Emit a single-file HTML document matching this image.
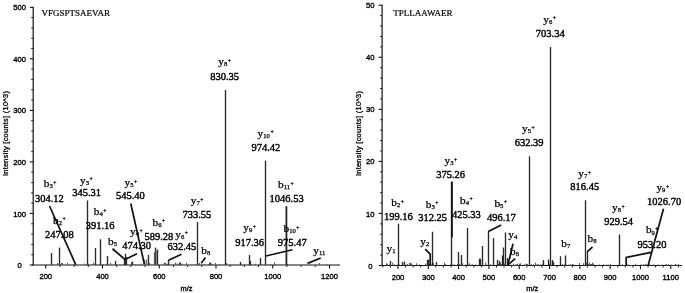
<!DOCTYPE html>
<html><head><meta charset="utf-8"><title>MS/MS spectra</title>
<style>html,body{margin:0;padding:0;background:#fff}svg{display:block;filter:blur(0.35px)}</style></head>
<body>
<svg width="685" height="293" viewBox="0 0 685 293">
<rect width="685" height="293" fill="#fff"/>
<line x1="33.20" y1="6.80" x2="33.20" y2="265.50" stroke="#111" stroke-width="1.2" stroke-linecap="butt"/>
<line x1="32.60" y1="265.00" x2="340.00" y2="265.00" stroke="#111" stroke-width="1.2" stroke-linecap="butt"/>
<line x1="29.80" y1="265.00" x2="33.20" y2="265.00" stroke="#111" stroke-width="1.1" stroke-linecap="butt"/>
<text x="19.60" y="268.10" font-family='"Liberation Sans", sans-serif' font-size="7.6" text-anchor="middle" font-weight="normal" fill="#000" stroke="#000" stroke-width="0.35">0</text>
<line x1="31.20" y1="254.69" x2="33.20" y2="254.69" stroke="#111" stroke-width="0.9" stroke-linecap="butt"/>
<line x1="31.20" y1="244.38" x2="33.20" y2="244.38" stroke="#111" stroke-width="0.9" stroke-linecap="butt"/>
<line x1="31.20" y1="234.08" x2="33.20" y2="234.08" stroke="#111" stroke-width="0.9" stroke-linecap="butt"/>
<line x1="31.20" y1="223.77" x2="33.20" y2="223.77" stroke="#111" stroke-width="0.9" stroke-linecap="butt"/>
<line x1="29.80" y1="213.46" x2="33.20" y2="213.46" stroke="#111" stroke-width="1.1" stroke-linecap="butt"/>
<text x="19.60" y="216.56" font-family='"Liberation Sans", sans-serif' font-size="7.6" text-anchor="middle" font-weight="normal" fill="#000" stroke="#000" stroke-width="0.35">100</text>
<line x1="31.20" y1="203.15" x2="33.20" y2="203.15" stroke="#111" stroke-width="0.9" stroke-linecap="butt"/>
<line x1="31.20" y1="192.84" x2="33.20" y2="192.84" stroke="#111" stroke-width="0.9" stroke-linecap="butt"/>
<line x1="31.20" y1="182.54" x2="33.20" y2="182.54" stroke="#111" stroke-width="0.9" stroke-linecap="butt"/>
<line x1="31.20" y1="172.23" x2="33.20" y2="172.23" stroke="#111" stroke-width="0.9" stroke-linecap="butt"/>
<line x1="29.80" y1="161.92" x2="33.20" y2="161.92" stroke="#111" stroke-width="1.1" stroke-linecap="butt"/>
<text x="19.60" y="165.02" font-family='"Liberation Sans", sans-serif' font-size="7.6" text-anchor="middle" font-weight="normal" fill="#000" stroke="#000" stroke-width="0.35">200</text>
<line x1="31.20" y1="151.61" x2="33.20" y2="151.61" stroke="#111" stroke-width="0.9" stroke-linecap="butt"/>
<line x1="31.20" y1="141.30" x2="33.20" y2="141.30" stroke="#111" stroke-width="0.9" stroke-linecap="butt"/>
<line x1="31.20" y1="131.00" x2="33.20" y2="131.00" stroke="#111" stroke-width="0.9" stroke-linecap="butt"/>
<line x1="31.20" y1="120.69" x2="33.20" y2="120.69" stroke="#111" stroke-width="0.9" stroke-linecap="butt"/>
<line x1="29.80" y1="110.38" x2="33.20" y2="110.38" stroke="#111" stroke-width="1.1" stroke-linecap="butt"/>
<text x="19.60" y="113.48" font-family='"Liberation Sans", sans-serif' font-size="7.6" text-anchor="middle" font-weight="normal" fill="#000" stroke="#000" stroke-width="0.35">300</text>
<line x1="31.20" y1="100.07" x2="33.20" y2="100.07" stroke="#111" stroke-width="0.9" stroke-linecap="butt"/>
<line x1="31.20" y1="89.76" x2="33.20" y2="89.76" stroke="#111" stroke-width="0.9" stroke-linecap="butt"/>
<line x1="31.20" y1="79.46" x2="33.20" y2="79.46" stroke="#111" stroke-width="0.9" stroke-linecap="butt"/>
<line x1="31.20" y1="69.15" x2="33.20" y2="69.15" stroke="#111" stroke-width="0.9" stroke-linecap="butt"/>
<line x1="29.80" y1="58.84" x2="33.20" y2="58.84" stroke="#111" stroke-width="1.1" stroke-linecap="butt"/>
<text x="19.60" y="61.94" font-family='"Liberation Sans", sans-serif' font-size="7.6" text-anchor="middle" font-weight="normal" fill="#000" stroke="#000" stroke-width="0.35">400</text>
<line x1="31.20" y1="48.53" x2="33.20" y2="48.53" stroke="#111" stroke-width="0.9" stroke-linecap="butt"/>
<line x1="31.20" y1="38.22" x2="33.20" y2="38.22" stroke="#111" stroke-width="0.9" stroke-linecap="butt"/>
<line x1="31.20" y1="27.92" x2="33.20" y2="27.92" stroke="#111" stroke-width="0.9" stroke-linecap="butt"/>
<line x1="31.20" y1="17.61" x2="33.20" y2="17.61" stroke="#111" stroke-width="0.9" stroke-linecap="butt"/>
<line x1="29.80" y1="7.30" x2="33.20" y2="7.30" stroke="#111" stroke-width="1.1" stroke-linecap="butt"/>
<text x="19.60" y="10.40" font-family='"Liberation Sans", sans-serif' font-size="7.6" text-anchor="middle" font-weight="normal" fill="#000" stroke="#000" stroke-width="0.35">500</text>
<line x1="45.75" y1="265.00" x2="45.75" y2="268.60" stroke="#111" stroke-width="1.1" stroke-linecap="butt"/>
<text x="45.75" y="279.00" font-family='"Liberation Sans", sans-serif' font-size="7.6" text-anchor="middle" font-weight="normal" fill="#000" stroke="#000" stroke-width="0.35">200</text>
<line x1="102.50" y1="265.00" x2="102.50" y2="268.60" stroke="#111" stroke-width="1.1" stroke-linecap="butt"/>
<text x="102.50" y="279.00" font-family='"Liberation Sans", sans-serif' font-size="7.6" text-anchor="middle" font-weight="normal" fill="#000" stroke="#000" stroke-width="0.35">400</text>
<line x1="159.25" y1="265.00" x2="159.25" y2="268.60" stroke="#111" stroke-width="1.1" stroke-linecap="butt"/>
<text x="159.25" y="279.00" font-family='"Liberation Sans", sans-serif' font-size="7.6" text-anchor="middle" font-weight="normal" fill="#000" stroke="#000" stroke-width="0.35">600</text>
<line x1="216.00" y1="265.00" x2="216.00" y2="268.60" stroke="#111" stroke-width="1.1" stroke-linecap="butt"/>
<text x="216.00" y="279.00" font-family='"Liberation Sans", sans-serif' font-size="7.6" text-anchor="middle" font-weight="normal" fill="#000" stroke="#000" stroke-width="0.35">800</text>
<line x1="272.75" y1="265.00" x2="272.75" y2="268.60" stroke="#111" stroke-width="1.1" stroke-linecap="butt"/>
<text x="272.75" y="279.00" font-family='"Liberation Sans", sans-serif' font-size="7.6" text-anchor="middle" font-weight="normal" fill="#000" stroke="#000" stroke-width="0.35">1000</text>
<line x1="329.50" y1="265.00" x2="329.50" y2="268.60" stroke="#111" stroke-width="1.1" stroke-linecap="butt"/>
<text x="329.50" y="279.00" font-family='"Liberation Sans", sans-serif' font-size="7.6" text-anchor="middle" font-weight="normal" fill="#000" stroke="#000" stroke-width="0.35">1200</text>
<line x1="59.94" y1="265.00" x2="59.94" y2="267.00" stroke="#111" stroke-width="0.9" stroke-linecap="butt"/>
<line x1="74.12" y1="265.00" x2="74.12" y2="267.00" stroke="#111" stroke-width="0.9" stroke-linecap="butt"/>
<line x1="88.31" y1="265.00" x2="88.31" y2="267.00" stroke="#111" stroke-width="0.9" stroke-linecap="butt"/>
<line x1="116.69" y1="265.00" x2="116.69" y2="267.00" stroke="#111" stroke-width="0.9" stroke-linecap="butt"/>
<line x1="130.88" y1="265.00" x2="130.88" y2="267.00" stroke="#111" stroke-width="0.9" stroke-linecap="butt"/>
<line x1="145.06" y1="265.00" x2="145.06" y2="267.00" stroke="#111" stroke-width="0.9" stroke-linecap="butt"/>
<line x1="173.44" y1="265.00" x2="173.44" y2="267.00" stroke="#111" stroke-width="0.9" stroke-linecap="butt"/>
<line x1="187.62" y1="265.00" x2="187.62" y2="267.00" stroke="#111" stroke-width="0.9" stroke-linecap="butt"/>
<line x1="201.81" y1="265.00" x2="201.81" y2="267.00" stroke="#111" stroke-width="0.9" stroke-linecap="butt"/>
<line x1="230.19" y1="265.00" x2="230.19" y2="267.00" stroke="#111" stroke-width="0.9" stroke-linecap="butt"/>
<line x1="244.38" y1="265.00" x2="244.38" y2="267.00" stroke="#111" stroke-width="0.9" stroke-linecap="butt"/>
<line x1="258.56" y1="265.00" x2="258.56" y2="267.00" stroke="#111" stroke-width="0.9" stroke-linecap="butt"/>
<line x1="286.94" y1="265.00" x2="286.94" y2="267.00" stroke="#111" stroke-width="0.9" stroke-linecap="butt"/>
<line x1="301.12" y1="265.00" x2="301.12" y2="267.00" stroke="#111" stroke-width="0.9" stroke-linecap="butt"/>
<line x1="315.31" y1="265.00" x2="315.31" y2="267.00" stroke="#111" stroke-width="0.9" stroke-linecap="butt"/>
<text transform="translate(8.00,133.6) rotate(-90)" font-family='"Liberation Sans", sans-serif' font-size="7.4" textLength="85" lengthAdjust="spacing" text-anchor="middle" fill="#000" stroke="#000" stroke-width="0.3">Intensity [counts] (10^3)</text>
<text x="186.50" y="291.30" font-family='"Liberation Sans", sans-serif' font-size="7.5" text-anchor="middle" font-weight="normal" fill="#000" stroke="#000" stroke-width="0.35">m/z</text>
<text x="41.60" y="15.80" font-family='"Liberation Serif", serif' font-size="9.0" text-anchor="start" font-weight="normal" fill="#000" stroke="#000" stroke-width="0.2">VFGSPTSAEVAR</text>
<path d="M135.5 265.0V264.0M156.5 265.0V264.2M61.5 265.0V263.0M67.5 265.0V263.0M57.5 265.0V263.0M103.5 265.0V264.2M167.5 265.0V264.2M110.5 265.0V263.0M165.5 265.0V263.0M76.5 265.0V264.0M226.5 265.0V263.0M319.5 265.0V263.0M212.5 265.0V264.2M327.5 265.0V264.2M204.5 265.0V264.0M125.5 265.0V264.0M199.5 265.0V263.0M131.5 265.0V262.5M93.5 265.0V263.0M208.5 265.0V264.0M149.5 265.0V263.0M250.5 265.0V263.0M57.5 265.0V264.0M186.5 265.0V263.0M166.5 265.0V263.8M177.5 265.0V263.5M146.5 265.0V264.0M274.5 265.0V262.5M270.5 265.0V264.2M209.5 265.0V263.0M186.5 265.0V263.8M255.5 265.0V263.8M219.5 265.0V264.2M74.5 265.0V263.5M88.5 265.0V263.8M84.5 265.0V263.5M164.5 265.0V262.5M62.5 265.0V263.0M209.5 265.0V263.8M140.5 265.0V263.8M215.5 265.0V263.0M275.5 265.0V264.2M287.5 265.0V263.8M179.5 265.0V262.5M59.5 265.0V262.5" stroke="#555" stroke-width="1" fill="none"/>
<line x1="51.50" y1="253.00" x2="51.50" y2="265.00" stroke="#2a2a2a" stroke-width="1.35" stroke-linecap="butt"/>
<line x1="59.50" y1="247.60" x2="59.50" y2="265.00" stroke="#2a2a2a" stroke-width="1.35" stroke-linecap="butt"/>
<line x1="87.50" y1="200.50" x2="87.50" y2="265.00" stroke="#2a2a2a" stroke-width="1.35" stroke-linecap="butt"/>
<line x1="95.50" y1="248.00" x2="95.50" y2="265.00" stroke="#2a2a2a" stroke-width="1.35" stroke-linecap="butt"/>
<line x1="100.50" y1="239.25" x2="100.50" y2="265.00" stroke="#2a2a2a" stroke-width="1.35" stroke-linecap="butt"/>
<line x1="107.50" y1="256.00" x2="107.50" y2="265.00" stroke="#2a2a2a" stroke-width="1.35" stroke-linecap="butt"/>
<line x1="115.50" y1="261.00" x2="115.50" y2="265.00" stroke="#2a2a2a" stroke-width="1.35" stroke-linecap="butt"/>
<line x1="124.50" y1="258.00" x2="124.50" y2="265.00" stroke="#2a2a2a" stroke-width="1.35" stroke-linecap="butt"/>
<line x1="125.50" y1="253.75" x2="125.50" y2="265.00" stroke="#2a2a2a" stroke-width="1.35" stroke-linecap="butt"/>
<line x1="126.50" y1="257.00" x2="126.50" y2="265.00" stroke="#2a2a2a" stroke-width="1.35" stroke-linecap="butt"/>
<line x1="132.50" y1="261.50" x2="132.50" y2="265.00" stroke="#2a2a2a" stroke-width="1.35" stroke-linecap="butt"/>
<line x1="144.50" y1="259.60" x2="144.50" y2="265.00" stroke="#777" stroke-width="1.35" stroke-linecap="butt"/>
<line x1="146.50" y1="259.60" x2="146.50" y2="265.00" stroke="#666" stroke-width="1.35" stroke-linecap="butt"/>
<line x1="148.50" y1="254.80" x2="148.50" y2="265.00" stroke="#2a2a2a" stroke-width="1.35" stroke-linecap="butt"/>
<line x1="154.50" y1="252.40" x2="154.50" y2="265.00" stroke="#666" stroke-width="1.35" stroke-linecap="butt"/>
<line x1="155.50" y1="247.60" x2="155.50" y2="265.00" stroke="#2a2a2a" stroke-width="1.35" stroke-linecap="butt"/>
<line x1="156.50" y1="250.50" x2="156.50" y2="265.00" stroke="#999" stroke-width="1.35" stroke-linecap="butt"/>
<line x1="157.50" y1="249.50" x2="157.50" y2="265.00" stroke="#2a2a2a" stroke-width="1.35" stroke-linecap="butt"/>
<line x1="175.50" y1="262.50" x2="175.50" y2="265.00" stroke="#666" stroke-width="1.35" stroke-linecap="butt"/>
<line x1="168.50" y1="260.00" x2="168.50" y2="265.00" stroke="#2a2a2a" stroke-width="1.35" stroke-linecap="butt"/>
<line x1="197.50" y1="222.00" x2="197.50" y2="265.00" stroke="#2a2a2a" stroke-width="1.35" stroke-linecap="butt"/>
<line x1="225.50" y1="90.00" x2="225.50" y2="265.00" stroke="#2a2a2a" stroke-width="1.35" stroke-linecap="butt"/>
<line x1="249.50" y1="255.00" x2="249.50" y2="265.00" stroke="#2a2a2a" stroke-width="1.35" stroke-linecap="butt"/>
<line x1="250.50" y1="261.00" x2="250.50" y2="265.00" stroke="#2a2a2a" stroke-width="1.35" stroke-linecap="butt"/>
<line x1="260.50" y1="258.00" x2="260.50" y2="265.00" stroke="#2a2a2a" stroke-width="1.35" stroke-linecap="butt"/>
<line x1="265.50" y1="160.75" x2="265.50" y2="265.00" stroke="#2a2a2a" stroke-width="1.35" stroke-linecap="butt"/>
<line x1="286.50" y1="206.30" x2="286.50" y2="265.00" stroke="#2a2a2a" stroke-width="1.35" stroke-linecap="butt"/>
<line x1="240.50" y1="262.00" x2="240.50" y2="265.00" stroke="#2a2a2a" stroke-width="1.35" stroke-linecap="butt"/>
<line x1="210.50" y1="262.50" x2="210.50" y2="265.00" stroke="#2a2a2a" stroke-width="1.35" stroke-linecap="butt"/>
<line x1="180.50" y1="262.50" x2="180.50" y2="265.00" stroke="#2a2a2a" stroke-width="1.35" stroke-linecap="butt"/>
<polyline points="49.50,206.00 75.60,264.30" fill="none" stroke="#111" stroke-width="1.7" stroke-linejoin="miter"/>
<polyline points="130.75,203.50 144.40,264.30" fill="none" stroke="#111" stroke-width="1.7" stroke-linejoin="miter"/>
<polyline points="112.50,248.75 125.00,259.50 137.00,253.75" fill="none" stroke="#111" stroke-width="1.7" stroke-linejoin="miter"/>
<polyline points="181.50,254.30 168.50,260.30" fill="none" stroke="#111" stroke-width="1.7" stroke-linejoin="miter"/>
<polyline points="205.50,257.50 201.25,263.20" fill="none" stroke="#111" stroke-width="1.7" stroke-linejoin="miter"/>
<polyline points="265.75,256.00 292.50,249.75" fill="none" stroke="#111" stroke-width="1.7" stroke-linejoin="miter"/>
<polyline points="320.75,258.00 307.50,263.40" fill="none" stroke="#111" stroke-width="1.7" stroke-linejoin="miter"/>
<line x1="286.40" y1="206.30" x2="286.40" y2="265.00" stroke="#222" stroke-width="1.5" stroke-linecap="butt"/>
<text x="43.80" y="187.25" font-family='"Liberation Serif", serif' fill="#000" stroke="#000" stroke-width="0.25"><tspan font-size="11.2">b</tspan><tspan font-size="6.7" dy="1.2">3</tspan><tspan font-size="5.6" dx="0.5" dy="-3.7">+</tspan></text>
<text x="49.40" y="201.50" font-family='"Liberation Serif", serif' font-size="10.5" text-anchor="middle" fill="#000" stroke="#000" stroke-width="0.4">304.12</text>
<text x="53.05" y="223.75" font-family='"Liberation Serif", serif' fill="#000" stroke="#000" stroke-width="0.25"><tspan font-size="11.2">b</tspan><tspan font-size="6.7" dy="1.2">2</tspan><tspan font-size="5.6" dx="0.5" dy="-3.7">+</tspan></text>
<text x="59.40" y="237.50" font-family='"Liberation Serif", serif' font-size="10.5" text-anchor="middle" fill="#000" stroke="#000" stroke-width="0.4">247.08</text>
<text x="80.10" y="183.50" font-family='"Liberation Serif", serif' fill="#000" stroke="#000" stroke-width="0.25"><tspan font-size="11.3">y</tspan><tspan font-size="6.7" dy="1.2">3</tspan><tspan font-size="5.6" dx="0.5" dy="-3.7">+</tspan></text>
<text x="86.60" y="196.00" font-family='"Liberation Serif", serif' font-size="10.5" text-anchor="middle" fill="#000" stroke="#000" stroke-width="0.4">345.31</text>
<text x="93.80" y="215.25" font-family='"Liberation Serif", serif' fill="#000" stroke="#000" stroke-width="0.25"><tspan font-size="11.2">b</tspan><tspan font-size="6.7" dy="1.2">4</tspan><tspan font-size="5.6" dx="0.5" dy="-3.7">+</tspan></text>
<text x="100.10" y="229.25" font-family='"Liberation Serif", serif' font-size="10.5" text-anchor="middle" fill="#000" stroke="#000" stroke-width="0.4">391.16</text>
<text x="108.05" y="245.00" font-family='"Liberation Serif", serif' fill="#000" stroke="#000" stroke-width="0.25"><tspan font-size="11.2">b</tspan><tspan font-size="6.7" dy="1.2">5</tspan></text>
<text x="124.60" y="186.00" font-family='"Liberation Serif", serif' fill="#000" stroke="#000" stroke-width="0.25"><tspan font-size="11.3">y</tspan><tspan font-size="6.7" dy="1.2">5</tspan><tspan font-size="5.6" dx="0.5" dy="-3.7">+</tspan></text>
<text x="130.40" y="199.25" font-family='"Liberation Serif", serif' font-size="10.5" text-anchor="middle" fill="#000" stroke="#000" stroke-width="0.4">545.40</text>
<text x="130.00" y="235.00" font-family='"Liberation Serif", serif' fill="#000" stroke="#000" stroke-width="0.25"><tspan font-size="11.3">y</tspan><tspan font-size="6.7" dy="1.2">4</tspan><tspan font-size="5.6" dx="0.5" dy="-3.7">+</tspan></text>
<text x="136.60" y="249.25" font-family='"Liberation Serif", serif' font-size="10.5" text-anchor="middle" fill="#000" stroke="#000" stroke-width="0.4">474.30</text>
<text x="152.55" y="225.75" font-family='"Liberation Serif", serif' fill="#000" stroke="#000" stroke-width="0.25"><tspan font-size="11.2">b</tspan><tspan font-size="6.7" dy="1.2">6</tspan><tspan font-size="5.6" dx="0.5" dy="-3.7">+</tspan></text>
<text x="158.90" y="240.00" font-family='"Liberation Serif", serif' font-size="10.5" text-anchor="middle" fill="#000" stroke="#000" stroke-width="0.4">589.28</text>
<text x="175.35" y="237.50" font-family='"Liberation Serif", serif' fill="#000" stroke="#000" stroke-width="0.25"><tspan font-size="11.3">y</tspan><tspan font-size="6.7" dy="1.2">6</tspan><tspan font-size="5.6" dx="0.5" dy="-3.7">+</tspan></text>
<text x="181.90" y="249.50" font-family='"Liberation Serif", serif' font-size="10.5" text-anchor="middle" fill="#000" stroke="#000" stroke-width="0.4">632.45</text>
<text x="190.85" y="204.00" font-family='"Liberation Serif", serif' fill="#000" stroke="#000" stroke-width="0.25"><tspan font-size="11.3">y</tspan><tspan font-size="6.7" dy="1.2">7</tspan><tspan font-size="5.6" dx="0.5" dy="-3.7">+</tspan></text>
<text x="196.90" y="218.00" font-family='"Liberation Serif", serif' font-size="10.5" text-anchor="middle" fill="#000" stroke="#000" stroke-width="0.4">733.55</text>
<text x="201.30" y="253.50" font-family='"Liberation Serif", serif' fill="#000" stroke="#000" stroke-width="0.25"><tspan font-size="11.2">b</tspan><tspan font-size="6.7" dy="1.2">8</tspan></text>
<text x="218.35" y="65.00" font-family='"Liberation Serif", serif' fill="#000" stroke="#000" stroke-width="0.25"><tspan font-size="11.3">y</tspan><tspan font-size="6.7" dy="1.2">8</tspan><tspan font-size="5.6" dx="0.5" dy="-3.7">+</tspan></text>
<text x="224.60" y="79.50" font-family='"Liberation Serif", serif' font-size="10.5" text-anchor="middle" fill="#000" stroke="#000" stroke-width="0.4">830.35</text>
<text x="243.35" y="231.25" font-family='"Liberation Serif", serif' fill="#000" stroke="#000" stroke-width="0.25"><tspan font-size="11.3">y</tspan><tspan font-size="6.7" dy="1.2">9</tspan><tspan font-size="5.6" dx="0.5" dy="-3.7">+</tspan></text>
<text x="249.60" y="245.50" font-family='"Liberation Serif", serif' font-size="10.5" text-anchor="middle" fill="#000" stroke="#000" stroke-width="0.4">917.36</text>
<text x="257.60" y="136.75" font-family='"Liberation Serif", serif' fill="#000" stroke="#000" stroke-width="0.25"><tspan font-size="11.3">y</tspan><tspan font-size="6.7" dy="1.2">10</tspan><tspan font-size="5.6" dx="0.5" dy="-3.7">+</tspan></text>
<text x="265.90" y="150.75" font-family='"Liberation Serif", serif' font-size="10.5" text-anchor="middle" fill="#000" stroke="#000" stroke-width="0.4">974.42</text>
<text x="278.05" y="188.00" font-family='"Liberation Serif", serif' fill="#000" stroke="#000" stroke-width="0.25"><tspan font-size="11.2">b</tspan><tspan font-size="6.7" dy="1.2">11</tspan><tspan font-size="5.6" dx="0.5" dy="-3.7">+</tspan></text>
<text x="286.60" y="201.50" font-family='"Liberation Serif", serif' font-size="10.5" text-anchor="middle" fill="#000" stroke="#000" stroke-width="0.4">1046.53</text>
<text x="283.55" y="232.00" font-family='"Liberation Serif", serif' fill="#000" stroke="#000" stroke-width="0.25"><tspan font-size="11.2">b</tspan><tspan font-size="6.7" dy="1.2">10</tspan><tspan font-size="5.6" dx="0.5" dy="-3.7">+</tspan></text>
<text x="292.25" y="245.75" font-family='"Liberation Serif", serif' font-size="10.5" text-anchor="middle" fill="#000" stroke="#000" stroke-width="0.4">975.47</text>
<text x="313.35" y="253.75" font-family='"Liberation Serif", serif' fill="#000" stroke="#000" stroke-width="0.25"><tspan font-size="11.3">y</tspan><tspan font-size="6.7" dy="1.2">11</tspan></text>
<line x1="382.10" y1="4.70" x2="382.10" y2="266.00" stroke="#111" stroke-width="1.2" stroke-linecap="butt"/>
<line x1="381.50" y1="265.50" x2="682.00" y2="265.50" stroke="#111" stroke-width="1.2" stroke-linecap="butt"/>
<line x1="378.70" y1="265.50" x2="382.10" y2="265.50" stroke="#111" stroke-width="1.1" stroke-linecap="butt"/>
<text x="370.30" y="268.60" font-family='"Liberation Sans", sans-serif' font-size="7.6" text-anchor="middle" font-weight="normal" fill="#000" stroke="#000" stroke-width="0.35">0</text>
<line x1="380.10" y1="255.09" x2="382.10" y2="255.09" stroke="#111" stroke-width="0.9" stroke-linecap="butt"/>
<line x1="380.10" y1="244.68" x2="382.10" y2="244.68" stroke="#111" stroke-width="0.9" stroke-linecap="butt"/>
<line x1="380.10" y1="234.26" x2="382.10" y2="234.26" stroke="#111" stroke-width="0.9" stroke-linecap="butt"/>
<line x1="380.10" y1="223.85" x2="382.10" y2="223.85" stroke="#111" stroke-width="0.9" stroke-linecap="butt"/>
<line x1="378.70" y1="213.44" x2="382.10" y2="213.44" stroke="#111" stroke-width="1.1" stroke-linecap="butt"/>
<text x="370.30" y="216.54" font-family='"Liberation Sans", sans-serif' font-size="7.6" text-anchor="middle" font-weight="normal" fill="#000" stroke="#000" stroke-width="0.35">10</text>
<line x1="380.10" y1="203.03" x2="382.10" y2="203.03" stroke="#111" stroke-width="0.9" stroke-linecap="butt"/>
<line x1="380.10" y1="192.62" x2="382.10" y2="192.62" stroke="#111" stroke-width="0.9" stroke-linecap="butt"/>
<line x1="380.10" y1="182.20" x2="382.10" y2="182.20" stroke="#111" stroke-width="0.9" stroke-linecap="butt"/>
<line x1="380.10" y1="171.79" x2="382.10" y2="171.79" stroke="#111" stroke-width="0.9" stroke-linecap="butt"/>
<line x1="378.70" y1="161.38" x2="382.10" y2="161.38" stroke="#111" stroke-width="1.1" stroke-linecap="butt"/>
<text x="370.30" y="164.48" font-family='"Liberation Sans", sans-serif' font-size="7.6" text-anchor="middle" font-weight="normal" fill="#000" stroke="#000" stroke-width="0.35">20</text>
<line x1="380.10" y1="150.97" x2="382.10" y2="150.97" stroke="#111" stroke-width="0.9" stroke-linecap="butt"/>
<line x1="380.10" y1="140.56" x2="382.10" y2="140.56" stroke="#111" stroke-width="0.9" stroke-linecap="butt"/>
<line x1="380.10" y1="130.14" x2="382.10" y2="130.14" stroke="#111" stroke-width="0.9" stroke-linecap="butt"/>
<line x1="380.10" y1="119.73" x2="382.10" y2="119.73" stroke="#111" stroke-width="0.9" stroke-linecap="butt"/>
<line x1="378.70" y1="109.32" x2="382.10" y2="109.32" stroke="#111" stroke-width="1.1" stroke-linecap="butt"/>
<text x="370.30" y="112.42" font-family='"Liberation Sans", sans-serif' font-size="7.6" text-anchor="middle" font-weight="normal" fill="#000" stroke="#000" stroke-width="0.35">30</text>
<line x1="380.10" y1="98.91" x2="382.10" y2="98.91" stroke="#111" stroke-width="0.9" stroke-linecap="butt"/>
<line x1="380.10" y1="88.50" x2="382.10" y2="88.50" stroke="#111" stroke-width="0.9" stroke-linecap="butt"/>
<line x1="380.10" y1="78.08" x2="382.10" y2="78.08" stroke="#111" stroke-width="0.9" stroke-linecap="butt"/>
<line x1="380.10" y1="67.67" x2="382.10" y2="67.67" stroke="#111" stroke-width="0.9" stroke-linecap="butt"/>
<line x1="378.70" y1="57.26" x2="382.10" y2="57.26" stroke="#111" stroke-width="1.1" stroke-linecap="butt"/>
<text x="370.30" y="60.36" font-family='"Liberation Sans", sans-serif' font-size="7.6" text-anchor="middle" font-weight="normal" fill="#000" stroke="#000" stroke-width="0.35">40</text>
<line x1="380.10" y1="46.85" x2="382.10" y2="46.85" stroke="#111" stroke-width="0.9" stroke-linecap="butt"/>
<line x1="380.10" y1="36.44" x2="382.10" y2="36.44" stroke="#111" stroke-width="0.9" stroke-linecap="butt"/>
<line x1="380.10" y1="26.02" x2="382.10" y2="26.02" stroke="#111" stroke-width="0.9" stroke-linecap="butt"/>
<line x1="380.10" y1="15.61" x2="382.10" y2="15.61" stroke="#111" stroke-width="0.9" stroke-linecap="butt"/>
<line x1="378.70" y1="5.20" x2="382.10" y2="5.20" stroke="#111" stroke-width="1.1" stroke-linecap="butt"/>
<text x="370.30" y="8.30" font-family='"Liberation Sans", sans-serif' font-size="7.6" text-anchor="middle" font-weight="normal" fill="#000" stroke="#000" stroke-width="0.35">50</text>
<line x1="398.00" y1="265.50" x2="398.00" y2="269.10" stroke="#111" stroke-width="1.1" stroke-linecap="butt"/>
<text x="398.00" y="279.50" font-family='"Liberation Sans", sans-serif' font-size="7.6" text-anchor="middle" font-weight="normal" fill="#000" stroke="#000" stroke-width="0.35">200</text>
<line x1="428.31" y1="265.50" x2="428.31" y2="269.10" stroke="#111" stroke-width="1.1" stroke-linecap="butt"/>
<text x="428.31" y="279.50" font-family='"Liberation Sans", sans-serif' font-size="7.6" text-anchor="middle" font-weight="normal" fill="#000" stroke="#000" stroke-width="0.35">300</text>
<line x1="458.62" y1="265.50" x2="458.62" y2="269.10" stroke="#111" stroke-width="1.1" stroke-linecap="butt"/>
<text x="458.62" y="279.50" font-family='"Liberation Sans", sans-serif' font-size="7.6" text-anchor="middle" font-weight="normal" fill="#000" stroke="#000" stroke-width="0.35">400</text>
<line x1="488.93" y1="265.50" x2="488.93" y2="269.10" stroke="#111" stroke-width="1.1" stroke-linecap="butt"/>
<text x="488.93" y="279.50" font-family='"Liberation Sans", sans-serif' font-size="7.6" text-anchor="middle" font-weight="normal" fill="#000" stroke="#000" stroke-width="0.35">500</text>
<line x1="519.24" y1="265.50" x2="519.24" y2="269.10" stroke="#111" stroke-width="1.1" stroke-linecap="butt"/>
<text x="519.24" y="279.50" font-family='"Liberation Sans", sans-serif' font-size="7.6" text-anchor="middle" font-weight="normal" fill="#000" stroke="#000" stroke-width="0.35">600</text>
<line x1="549.55" y1="265.50" x2="549.55" y2="269.10" stroke="#111" stroke-width="1.1" stroke-linecap="butt"/>
<text x="549.55" y="279.50" font-family='"Liberation Sans", sans-serif' font-size="7.6" text-anchor="middle" font-weight="normal" fill="#000" stroke="#000" stroke-width="0.35">700</text>
<line x1="579.86" y1="265.50" x2="579.86" y2="269.10" stroke="#111" stroke-width="1.1" stroke-linecap="butt"/>
<text x="579.86" y="279.50" font-family='"Liberation Sans", sans-serif' font-size="7.6" text-anchor="middle" font-weight="normal" fill="#000" stroke="#000" stroke-width="0.35">800</text>
<line x1="610.17" y1="265.50" x2="610.17" y2="269.10" stroke="#111" stroke-width="1.1" stroke-linecap="butt"/>
<text x="610.17" y="279.50" font-family='"Liberation Sans", sans-serif' font-size="7.6" text-anchor="middle" font-weight="normal" fill="#000" stroke="#000" stroke-width="0.35">900</text>
<line x1="640.48" y1="265.50" x2="640.48" y2="269.10" stroke="#111" stroke-width="1.1" stroke-linecap="butt"/>
<text x="640.48" y="279.50" font-family='"Liberation Sans", sans-serif' font-size="7.6" text-anchor="middle" font-weight="normal" fill="#000" stroke="#000" stroke-width="0.35">1000</text>
<line x1="670.79" y1="265.50" x2="670.79" y2="269.10" stroke="#111" stroke-width="1.1" stroke-linecap="butt"/>
<text x="670.79" y="279.50" font-family='"Liberation Sans", sans-serif' font-size="7.6" text-anchor="middle" font-weight="normal" fill="#000" stroke="#000" stroke-width="0.35">1100</text>
<line x1="382.85" y1="265.50" x2="382.85" y2="267.50" stroke="#111" stroke-width="0.9" stroke-linecap="butt"/>
<line x1="390.42" y1="265.50" x2="390.42" y2="267.50" stroke="#111" stroke-width="0.9" stroke-linecap="butt"/>
<line x1="405.58" y1="265.50" x2="405.58" y2="267.50" stroke="#111" stroke-width="0.9" stroke-linecap="butt"/>
<line x1="413.15" y1="265.50" x2="413.15" y2="267.50" stroke="#111" stroke-width="0.9" stroke-linecap="butt"/>
<line x1="420.73" y1="265.50" x2="420.73" y2="267.50" stroke="#111" stroke-width="0.9" stroke-linecap="butt"/>
<line x1="435.89" y1="265.50" x2="435.89" y2="267.50" stroke="#111" stroke-width="0.9" stroke-linecap="butt"/>
<line x1="443.46" y1="265.50" x2="443.46" y2="267.50" stroke="#111" stroke-width="0.9" stroke-linecap="butt"/>
<line x1="451.04" y1="265.50" x2="451.04" y2="267.50" stroke="#111" stroke-width="0.9" stroke-linecap="butt"/>
<line x1="466.20" y1="265.50" x2="466.20" y2="267.50" stroke="#111" stroke-width="0.9" stroke-linecap="butt"/>
<line x1="473.77" y1="265.50" x2="473.77" y2="267.50" stroke="#111" stroke-width="0.9" stroke-linecap="butt"/>
<line x1="481.35" y1="265.50" x2="481.35" y2="267.50" stroke="#111" stroke-width="0.9" stroke-linecap="butt"/>
<line x1="496.51" y1="265.50" x2="496.51" y2="267.50" stroke="#111" stroke-width="0.9" stroke-linecap="butt"/>
<line x1="504.08" y1="265.50" x2="504.08" y2="267.50" stroke="#111" stroke-width="0.9" stroke-linecap="butt"/>
<line x1="511.66" y1="265.50" x2="511.66" y2="267.50" stroke="#111" stroke-width="0.9" stroke-linecap="butt"/>
<line x1="526.82" y1="265.50" x2="526.82" y2="267.50" stroke="#111" stroke-width="0.9" stroke-linecap="butt"/>
<line x1="534.39" y1="265.50" x2="534.39" y2="267.50" stroke="#111" stroke-width="0.9" stroke-linecap="butt"/>
<line x1="541.97" y1="265.50" x2="541.97" y2="267.50" stroke="#111" stroke-width="0.9" stroke-linecap="butt"/>
<line x1="557.13" y1="265.50" x2="557.13" y2="267.50" stroke="#111" stroke-width="0.9" stroke-linecap="butt"/>
<line x1="564.70" y1="265.50" x2="564.70" y2="267.50" stroke="#111" stroke-width="0.9" stroke-linecap="butt"/>
<line x1="572.28" y1="265.50" x2="572.28" y2="267.50" stroke="#111" stroke-width="0.9" stroke-linecap="butt"/>
<line x1="587.44" y1="265.50" x2="587.44" y2="267.50" stroke="#111" stroke-width="0.9" stroke-linecap="butt"/>
<line x1="595.01" y1="265.50" x2="595.01" y2="267.50" stroke="#111" stroke-width="0.9" stroke-linecap="butt"/>
<line x1="602.59" y1="265.50" x2="602.59" y2="267.50" stroke="#111" stroke-width="0.9" stroke-linecap="butt"/>
<line x1="617.75" y1="265.50" x2="617.75" y2="267.50" stroke="#111" stroke-width="0.9" stroke-linecap="butt"/>
<line x1="625.33" y1="265.50" x2="625.33" y2="267.50" stroke="#111" stroke-width="0.9" stroke-linecap="butt"/>
<line x1="632.90" y1="265.50" x2="632.90" y2="267.50" stroke="#111" stroke-width="0.9" stroke-linecap="butt"/>
<line x1="648.06" y1="265.50" x2="648.06" y2="267.50" stroke="#111" stroke-width="0.9" stroke-linecap="butt"/>
<line x1="655.63" y1="265.50" x2="655.63" y2="267.50" stroke="#111" stroke-width="0.9" stroke-linecap="butt"/>
<line x1="663.21" y1="265.50" x2="663.21" y2="267.50" stroke="#111" stroke-width="0.9" stroke-linecap="butt"/>
<line x1="678.37" y1="265.50" x2="678.37" y2="267.50" stroke="#111" stroke-width="0.9" stroke-linecap="butt"/>
<text transform="translate(361.00,133.6) rotate(-90)" font-family='"Liberation Sans", sans-serif' font-size="7.4" textLength="85" lengthAdjust="spacing" text-anchor="middle" fill="#000" stroke="#000" stroke-width="0.3">Intensity [counts] (10^3)</text>
<text x="532.20" y="291.30" font-family='"Liberation Sans", sans-serif' font-size="7.5" text-anchor="middle" font-weight="normal" fill="#000" stroke="#000" stroke-width="0.35">m/z</text>
<text x="393.20" y="15.60" font-family='"Liberation Serif", serif' font-size="9.0" text-anchor="start" font-weight="normal" fill="#000" stroke="#000" stroke-width="0.2">TPLLAAWAER</text>
<path d="M592.5 265.5V262.7M469.5 265.5V263.3M646.5 265.5V264.4M392.5 265.5V262.7M490.5 265.5V264.7M531.5 265.5V264.3M611.5 265.5V264.9M603.5 265.5V264.2M500.5 265.5V262.7M409.5 265.5V262.7M504.5 265.5V264.0M645.5 265.5V264.2M640.5 265.5V264.6M593.5 265.5V263.7M586.5 265.5V263.3M667.5 265.5V264.9M410.5 265.5V264.5M454.5 265.5V264.3M389.5 265.5V264.5M463.5 265.5V264.9M428.5 265.5V263.7M565.5 265.5V263.7M666.5 265.5V265.1M520.5 265.5V263.3M503.5 265.5V263.3M416.5 265.5V263.3M404.5 265.5V264.7M675.5 265.5V263.8M433.5 265.5V263.7M562.5 265.5V264.7M386.5 265.5V264.5M543.5 265.5V263.7M566.5 265.5V264.7M643.5 265.5V264.2M429.5 265.5V264.0M666.5 265.5V264.4M525.5 265.5V264.7M635.5 265.5V263.8M527.5 265.5V264.0M411.5 265.5V264.7M606.5 265.5V264.6M526.5 265.5V264.5M537.5 265.5V264.3M665.5 265.5V264.4M429.5 265.5V264.9M608.5 265.5V264.6M673.5 265.5V265.0M590.5 265.5V264.0M538.5 265.5V264.5M490.5 265.5V264.3M542.5 265.5V263.7M573.5 265.5V264.3M622.5 265.5V264.2M603.5 265.5V264.8M444.5 265.5V262.7M490.5 265.5V264.9M676.5 265.5V264.6M524.5 265.5V264.3M589.5 265.5V263.7M517.5 265.5V263.7M666.5 265.5V264.4M409.5 265.5V264.7M452.5 265.5V264.3M485.5 265.5V262.7M569.5 265.5V264.9M526.5 265.5V263.7M621.5 265.5V265.0M631.5 265.5V265.0M653.5 265.5V264.8M526.5 265.5V264.5M513.5 265.5V263.7M411.5 265.5V263.3M522.5 265.5V264.7M599.5 265.5V264.5M677.5 265.5V265.1M430.5 265.5V262.7M623.5 265.5V264.9M565.5 265.5V262.7M579.5 265.5V263.7M431.5 265.5V264.5M392.5 265.5V264.7M540.5 265.5V264.5M513.5 265.5V264.3M628.5 265.5V264.8M394.5 265.5V264.3M472.5 265.5V264.3M610.5 265.5V264.4M462.5 265.5V263.3M631.5 265.5V265.1M653.5 265.5V264.4M649.5 265.5V264.2M629.5 265.5V264.9M542.5 265.5V264.9M642.5 265.5V264.9M564.5 265.5V264.5M436.5 265.5V262.7M568.5 265.5V264.7M549.5 265.5V263.7M586.5 265.5V262.7M616.5 265.5V265.0M645.5 265.5V265.1M459.5 265.5V264.0M398.5 265.5V264.7M535.5 265.5V264.9M609.5 265.5V265.0M516.5 265.5V264.3M589.5 265.5V262.7M535.5 265.5V262.7M535.5 265.5V264.3M591.5 265.5V264.0M657.5 265.5V264.8M632.5 265.5V264.9M508.5 265.5V263.3M515.5 265.5V264.7M583.5 265.5V263.3M407.5 265.5V264.0M616.5 265.5V264.9M662.5 265.5V264.4M428.5 265.5V264.5M670.5 265.5V264.8M605.5 265.5V265.0M503.5 265.5V262.7M433.5 265.5V264.3M433.5 265.5V263.3M678.5 265.5V264.2M485.5 265.5V264.3M490.5 265.5V264.7M598.5 265.5V264.9M485.5 265.5V262.7M515.5 265.5V264.9M498.5 265.5V264.0M536.5 265.5V264.7M419.5 265.5V264.3M671.5 265.5V265.0M410.5 265.5V264.0M397.5 265.5V264.5M465.5 265.5V264.5M627.5 265.5V264.6M505.5 265.5V262.7M591.5 265.5V264.7M468.5 265.5V264.5M511.5 265.5V264.7M465.5 265.5V264.9M572.5 265.5V264.0M410.5 265.5V264.3M405.5 265.5V264.7M519.5 265.5V263.7M678.5 265.5V264.2M658.5 265.5V264.6M568.5 265.5V264.9M540.5 265.5V264.3M661.5 265.5V264.9M462.5 265.5V264.5M445.5 265.5V264.0M570.5 265.5V264.3M471.5 265.5V264.5M465.5 265.5V264.9M678.5 265.5V265.1M390.5 265.5V264.3M537.5 265.5V264.3M660.5 265.5V265.0M579.5 265.5V263.3M579.5 265.5V263.3M671.5 265.5V264.6M588.5 265.5V264.3M486.5 265.5V264.5M504.5 265.5V263.7M674.5 265.5V264.9M390.5 265.5V264.0M512.5 265.5V264.9M410.5 265.5V263.3M641.5 265.5V264.6M562.5 265.5V264.0M399.5 265.5V264.5M432.5 265.5V262.7M387.5 265.5V263.7M668.5 265.5V264.4M457.5 265.5V264.0M450.5 265.5V264.5M386.5 265.5V263.3M410.5 265.5V264.0M533.5 265.5V264.3M458.5 265.5V264.9M412.5 265.5V264.7M428.5 265.5V264.9M501.5 265.5V264.0M475.5 265.5V264.3M410.5 265.5V264.5M579.5 265.5V263.3M610.5 265.5V263.8M429.5 265.5V264.5M398.5 265.5V263.3M601.5 265.5V264.9M653.5 265.5V265.1M628.5 265.5V264.8M411.5 265.5V264.9M425.5 265.5V263.7M668.5 265.5V264.2M631.5 265.5V265.1M570.5 265.5V264.3" stroke="#555" stroke-width="1" fill="none"/>
<line x1="390.50" y1="261.00" x2="390.50" y2="265.50" stroke="#2a2a2a" stroke-width="1.35" stroke-linecap="butt"/>
<line x1="398.50" y1="223.75" x2="398.50" y2="265.50" stroke="#2a2a2a" stroke-width="1.35" stroke-linecap="butt"/>
<line x1="402.50" y1="262.00" x2="402.50" y2="265.50" stroke="#2a2a2a" stroke-width="1.35" stroke-linecap="butt"/>
<line x1="404.50" y1="261.50" x2="404.50" y2="265.50" stroke="#2a2a2a" stroke-width="1.35" stroke-linecap="butt"/>
<line x1="432.50" y1="231.75" x2="432.50" y2="265.50" stroke="#2a2a2a" stroke-width="1.35" stroke-linecap="butt"/>
<line x1="436.50" y1="262.00" x2="436.50" y2="265.50" stroke="#2a2a2a" stroke-width="1.35" stroke-linecap="butt"/>
<line x1="451.50" y1="182.00" x2="451.50" y2="265.50" stroke="#2a2a2a" stroke-width="1.35" stroke-linecap="butt"/>
<line x1="458.50" y1="252.00" x2="458.50" y2="265.50" stroke="#2a2a2a" stroke-width="1.35" stroke-linecap="butt"/>
<line x1="461.50" y1="255.00" x2="461.50" y2="265.50" stroke="#2a2a2a" stroke-width="1.35" stroke-linecap="butt"/>
<line x1="467.50" y1="228.00" x2="467.50" y2="265.50" stroke="#2a2a2a" stroke-width="1.35" stroke-linecap="butt"/>
<line x1="479.50" y1="258.75" x2="479.50" y2="265.50" stroke="#2a2a2a" stroke-width="1.35" stroke-linecap="butt"/>
<line x1="480.50" y1="258.75" x2="480.50" y2="265.50" stroke="#2a2a2a" stroke-width="1.35" stroke-linecap="butt"/>
<line x1="482.50" y1="246.00" x2="482.50" y2="265.50" stroke="#2a2a2a" stroke-width="1.35" stroke-linecap="butt"/>
<line x1="488.50" y1="231.25" x2="488.50" y2="265.50" stroke="#2a2a2a" stroke-width="1.35" stroke-linecap="butt"/>
<line x1="493.50" y1="238.00" x2="493.50" y2="265.50" stroke="#2a2a2a" stroke-width="1.35" stroke-linecap="butt"/>
<line x1="497.50" y1="260.00" x2="497.50" y2="265.50" stroke="#2a2a2a" stroke-width="1.35" stroke-linecap="butt"/>
<line x1="499.50" y1="261.00" x2="499.50" y2="265.50" stroke="#2a2a2a" stroke-width="1.35" stroke-linecap="butt"/>
<line x1="502.50" y1="255.50" x2="502.50" y2="265.50" stroke="#2a2a2a" stroke-width="1.35" stroke-linecap="butt"/>
<line x1="503.50" y1="247.50" x2="503.50" y2="265.50" stroke="#2a2a2a" stroke-width="1.35" stroke-linecap="butt"/>
<line x1="505.50" y1="232.50" x2="505.50" y2="265.50" stroke="#2a2a2a" stroke-width="1.35" stroke-linecap="butt"/>
<line x1="507.50" y1="258.00" x2="507.50" y2="265.50" stroke="#2a2a2a" stroke-width="1.35" stroke-linecap="butt"/>
<line x1="529.50" y1="156.30" x2="529.50" y2="265.50" stroke="#2a2a2a" stroke-width="1.35" stroke-linecap="butt"/>
<line x1="543.50" y1="260.00" x2="543.50" y2="265.50" stroke="#2a2a2a" stroke-width="1.35" stroke-linecap="butt"/>
<line x1="548.50" y1="259.50" x2="548.50" y2="265.50" stroke="#2a2a2a" stroke-width="1.35" stroke-linecap="butt"/>
<line x1="550.50" y1="47.00" x2="550.50" y2="265.50" stroke="#2a2a2a" stroke-width="1.35" stroke-linecap="butt"/>
<line x1="552.50" y1="260.00" x2="552.50" y2="265.50" stroke="#2a2a2a" stroke-width="1.35" stroke-linecap="butt"/>
<line x1="553.50" y1="262.00" x2="553.50" y2="265.50" stroke="#2a2a2a" stroke-width="1.35" stroke-linecap="butt"/>
<line x1="560.50" y1="256.25" x2="560.50" y2="265.50" stroke="#2a2a2a" stroke-width="1.35" stroke-linecap="butt"/>
<line x1="565.50" y1="255.50" x2="565.50" y2="265.50" stroke="#2a2a2a" stroke-width="1.35" stroke-linecap="butt"/>
<line x1="585.50" y1="200.30" x2="585.50" y2="265.50" stroke="#2a2a2a" stroke-width="1.35" stroke-linecap="butt"/>
<line x1="587.50" y1="251.25" x2="587.50" y2="265.50" stroke="#2a2a2a" stroke-width="1.35" stroke-linecap="butt"/>
<line x1="619.50" y1="234.50" x2="619.50" y2="265.50" stroke="#2a2a2a" stroke-width="1.35" stroke-linecap="butt"/>
<line x1="427.50" y1="260.00" x2="427.50" y2="265.50" stroke="#2a2a2a" stroke-width="1.35" stroke-linecap="butt"/>
<line x1="428.50" y1="259.50" x2="428.50" y2="265.50" stroke="#2a2a2a" stroke-width="1.35" stroke-linecap="butt"/>
<polyline points="425.20,249.20 430.20,254.20 430.20,265.50" fill="none" stroke="#111" stroke-width="1.7" stroke-linejoin="miter"/>
<line x1="451.90" y1="181.50" x2="451.90" y2="237.50" stroke="#111" stroke-width="1.8" stroke-linecap="butt"/>
<polyline points="488.30,231.60 501.25,225.00" fill="none" stroke="#111" stroke-width="1.7" stroke-linejoin="miter"/>
<polyline points="513.00,243.75 508.00,264.80" fill="none" stroke="#111" stroke-width="1.7" stroke-linejoin="miter"/>
<polyline points="515.20,258.60 508.00,264.80" fill="none" stroke="#111" stroke-width="1.7" stroke-linejoin="miter"/>
<polyline points="587.40,251.60 592.50,247.00" fill="none" stroke="#111" stroke-width="1.7" stroke-linejoin="miter"/>
<polyline points="626.20,265.50 626.20,257.50 651.00,252.30" fill="none" stroke="#111" stroke-width="1.7" stroke-linejoin="miter"/>
<polyline points="663.50,208.70 648.20,265.20" fill="none" stroke="#111" stroke-width="1.7" stroke-linejoin="miter"/>
<text x="391.30" y="206.25" font-family='"Liberation Serif", serif' fill="#000" stroke="#000" stroke-width="0.25"><tspan font-size="11.2">b</tspan><tspan font-size="6.7" dy="1.2">2</tspan><tspan font-size="5.6" dx="0.5" dy="-3.7">+</tspan></text>
<text x="398.40" y="220.00" font-family='"Liberation Serif", serif' font-size="10.5" text-anchor="middle" fill="#000" stroke="#000" stroke-width="0.4">199.16</text>
<text x="386.60" y="252.00" font-family='"Liberation Serif", serif' fill="#000" stroke="#000" stroke-width="0.25"><tspan font-size="11.3">y</tspan><tspan font-size="6.7" dy="1.2">1</tspan></text>
<text x="425.80" y="207.50" font-family='"Liberation Serif", serif' fill="#000" stroke="#000" stroke-width="0.25"><tspan font-size="11.2">b</tspan><tspan font-size="6.7" dy="1.2">3</tspan><tspan font-size="5.6" dx="0.5" dy="-3.7">+</tspan></text>
<text x="432.60" y="221.25" font-family='"Liberation Serif", serif' font-size="10.5" text-anchor="middle" fill="#000" stroke="#000" stroke-width="0.4">312.25</text>
<text x="420.30" y="244.70" font-family='"Liberation Serif", serif' fill="#000" stroke="#000" stroke-width="0.25"><tspan font-size="11.3">y</tspan><tspan font-size="6.7" dy="1.2">2</tspan></text>
<text x="444.60" y="164.00" font-family='"Liberation Serif", serif' fill="#000" stroke="#000" stroke-width="0.25"><tspan font-size="11.3">y</tspan><tspan font-size="6.7" dy="1.2">3</tspan><tspan font-size="5.6" dx="0.5" dy="-3.7">+</tspan></text>
<text x="450.60" y="177.75" font-family='"Liberation Serif", serif' font-size="10.5" text-anchor="middle" fill="#000" stroke="#000" stroke-width="0.4">375.26</text>
<text x="460.05" y="203.75" font-family='"Liberation Serif", serif' fill="#000" stroke="#000" stroke-width="0.25"><tspan font-size="11.2">b</tspan><tspan font-size="6.7" dy="1.2">4</tspan><tspan font-size="5.6" dx="0.5" dy="-3.7">+</tspan></text>
<text x="466.40" y="218.25" font-family='"Liberation Serif", serif' font-size="10.5" text-anchor="middle" fill="#000" stroke="#000" stroke-width="0.4">425.33</text>
<text x="494.40" y="206.75" font-family='"Liberation Serif", serif' fill="#000" stroke="#000" stroke-width="0.25"><tspan font-size="11.2">b</tspan><tspan font-size="6.7" dy="1.2">5</tspan><tspan font-size="5.6" dx="0.5" dy="-3.7">+</tspan></text>
<text x="501.40" y="220.75" font-family='"Liberation Serif", serif' font-size="10.5" text-anchor="middle" fill="#000" stroke="#000" stroke-width="0.4">496.17</text>
<text x="508.35" y="237.50" font-family='"Liberation Serif", serif' fill="#000" stroke="#000" stroke-width="0.25"><tspan font-size="11.3">y</tspan><tspan font-size="6.7" dy="1.2">4</tspan></text>
<text x="510.05" y="254.50" font-family='"Liberation Serif", serif' fill="#000" stroke="#000" stroke-width="0.25"><tspan font-size="11.2">b</tspan><tspan font-size="6.7" dy="1.2">6</tspan></text>
<text x="522.10" y="132.00" font-family='"Liberation Serif", serif' fill="#000" stroke="#000" stroke-width="0.25"><tspan font-size="11.3">y</tspan><tspan font-size="6.7" dy="1.2">5</tspan><tspan font-size="5.6" dx="0.5" dy="-3.7">+</tspan></text>
<text x="529.10" y="146.25" font-family='"Liberation Serif", serif' font-size="10.5" text-anchor="middle" fill="#000" stroke="#000" stroke-width="0.4">632.39</text>
<text x="543.35" y="22.50" font-family='"Liberation Serif", serif' fill="#000" stroke="#000" stroke-width="0.25"><tspan font-size="11.3">y</tspan><tspan font-size="6.7" dy="1.2">6</tspan><tspan font-size="5.6" dx="0.5" dy="-3.7">+</tspan></text>
<text x="550.25" y="37.00" font-family='"Liberation Serif", serif' font-size="10.5" text-anchor="middle" fill="#000" stroke="#000" stroke-width="0.4">703.34</text>
<text x="561.30" y="247.00" font-family='"Liberation Serif", serif' fill="#000" stroke="#000" stroke-width="0.25"><tspan font-size="11.2">b</tspan><tspan font-size="6.7" dy="1.2">7</tspan></text>
<text x="578.35" y="177.00" font-family='"Liberation Serif", serif' fill="#000" stroke="#000" stroke-width="0.25"><tspan font-size="11.3">y</tspan><tspan font-size="6.7" dy="1.2">7</tspan><tspan font-size="5.6" dx="0.5" dy="-3.7">+</tspan></text>
<text x="584.75" y="190.20" font-family='"Liberation Serif", serif' font-size="10.5" text-anchor="middle" fill="#000" stroke="#000" stroke-width="0.4">816.45</text>
<text x="587.55" y="242.00" font-family='"Liberation Serif", serif' fill="#000" stroke="#000" stroke-width="0.25"><tspan font-size="11.2">b</tspan><tspan font-size="6.7" dy="1.2">8</tspan></text>
<text x="612.00" y="211.00" font-family='"Liberation Serif", serif' fill="#000" stroke="#000" stroke-width="0.25"><tspan font-size="11.3">y</tspan><tspan font-size="6.7" dy="1.2">8</tspan><tspan font-size="5.6" dx="0.5" dy="-3.7">+</tspan></text>
<text x="618.60" y="224.50" font-family='"Liberation Serif", serif' font-size="10.5" text-anchor="middle" fill="#000" stroke="#000" stroke-width="0.4">929.54</text>
<text x="645.90" y="233.30" font-family='"Liberation Serif", serif' fill="#000" stroke="#000" stroke-width="0.25"><tspan font-size="11.2">b</tspan><tspan font-size="6.7" dy="1.2">9</tspan><tspan font-size="5.6" dx="0.5" dy="-3.7">+</tspan></text>
<text x="652.00" y="247.60" font-family='"Liberation Serif", serif' font-size="10.5" text-anchor="middle" fill="#000" stroke="#000" stroke-width="0.4">953.20</text>
<text x="656.40" y="191.10" font-family='"Liberation Serif", serif' fill="#000" stroke="#000" stroke-width="0.25"><tspan font-size="11.3">y</tspan><tspan font-size="6.7" dy="1.2">9</tspan><tspan font-size="5.6" dx="0.5" dy="-3.7">+</tspan></text>
<text x="664.10" y="205.40" font-family='"Liberation Serif", serif' font-size="10.5" text-anchor="middle" fill="#000" stroke="#000" stroke-width="0.4">1026.70</text>
</svg>
</body></html>
